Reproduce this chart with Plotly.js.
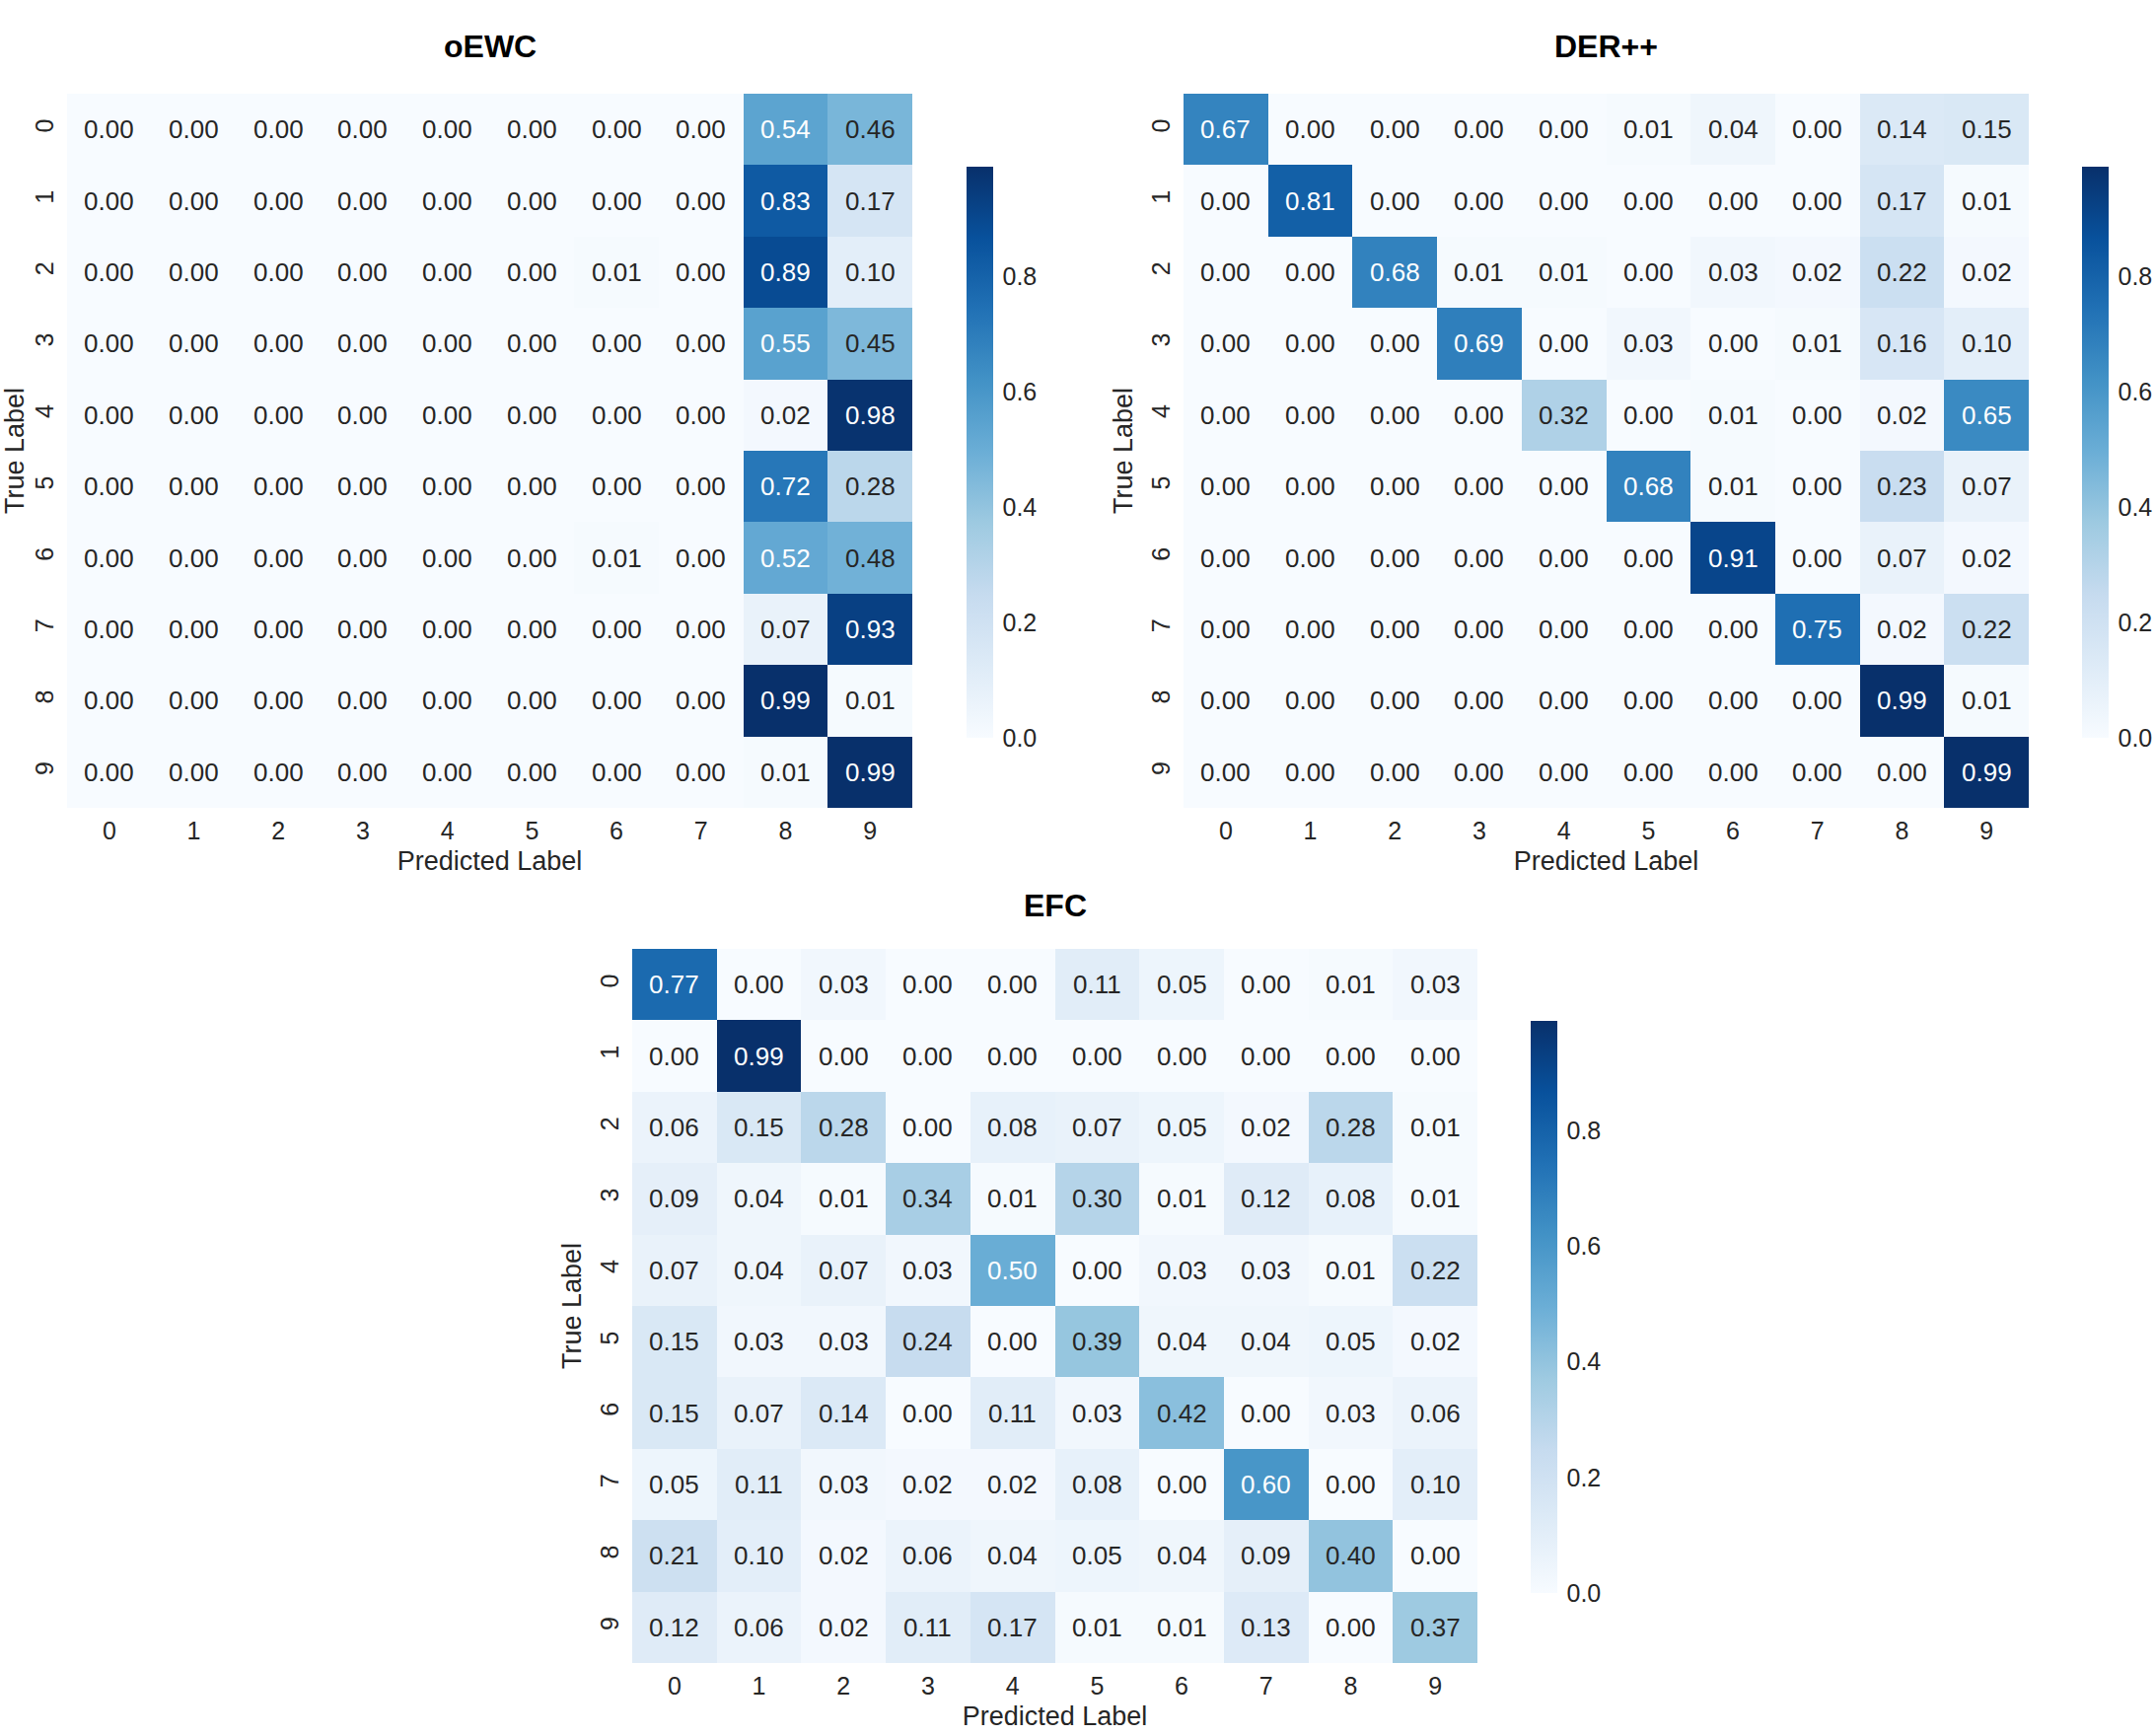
<!DOCTYPE html>
<html>
<head>
<meta charset="utf-8">
<script src="https://cdn.plot.ly/plotly-3.0.1.min.js"></script>
<style>
  html, body { margin: 0; padding: 0; background: #fff; }
  #chart { width: 2185px; height: 1760px; }
</style>
</head>
<body>
<div id="chart"></div>
<script>
// class labels on both axes
const labels = [0, 1, 2, 3, 4, 5, 6, 7, 8, 9];

// confusion matrices (rows = true label, cols = predicted label)
const oewc = [
  [0.00, 0.00, 0.00, 0.00, 0.00, 0.00, 0.00, 0.00, 0.54, 0.46],
  [0.00, 0.00, 0.00, 0.00, 0.00, 0.00, 0.00, 0.00, 0.83, 0.17],
  [0.00, 0.00, 0.00, 0.00, 0.00, 0.00, 0.01, 0.00, 0.89, 0.10],
  [0.00, 0.00, 0.00, 0.00, 0.00, 0.00, 0.00, 0.00, 0.55, 0.45],
  [0.00, 0.00, 0.00, 0.00, 0.00, 0.00, 0.00, 0.00, 0.02, 0.98],
  [0.00, 0.00, 0.00, 0.00, 0.00, 0.00, 0.00, 0.00, 0.72, 0.28],
  [0.00, 0.00, 0.00, 0.00, 0.00, 0.00, 0.01, 0.00, 0.52, 0.48],
  [0.00, 0.00, 0.00, 0.00, 0.00, 0.00, 0.00, 0.00, 0.07, 0.93],
  [0.00, 0.00, 0.00, 0.00, 0.00, 0.00, 0.00, 0.00, 0.99, 0.01],
  [0.00, 0.00, 0.00, 0.00, 0.00, 0.00, 0.00, 0.00, 0.01, 0.99]
];

const derpp = [
  [0.67, 0.00, 0.00, 0.00, 0.00, 0.01, 0.04, 0.00, 0.14, 0.15],
  [0.00, 0.81, 0.00, 0.00, 0.00, 0.00, 0.00, 0.00, 0.17, 0.01],
  [0.00, 0.00, 0.68, 0.01, 0.01, 0.00, 0.03, 0.02, 0.22, 0.02],
  [0.00, 0.00, 0.00, 0.69, 0.00, 0.03, 0.00, 0.01, 0.16, 0.10],
  [0.00, 0.00, 0.00, 0.00, 0.32, 0.00, 0.01, 0.00, 0.02, 0.65],
  [0.00, 0.00, 0.00, 0.00, 0.00, 0.68, 0.01, 0.00, 0.23, 0.07],
  [0.00, 0.00, 0.00, 0.00, 0.00, 0.00, 0.91, 0.00, 0.07, 0.02],
  [0.00, 0.00, 0.00, 0.00, 0.00, 0.00, 0.00, 0.75, 0.02, 0.22],
  [0.00, 0.00, 0.00, 0.00, 0.00, 0.00, 0.00, 0.00, 0.99, 0.01],
  [0.00, 0.00, 0.00, 0.00, 0.00, 0.00, 0.00, 0.00, 0.00, 0.99]
];

const efc = [
  [0.77, 0.00, 0.03, 0.00, 0.00, 0.11, 0.05, 0.00, 0.01, 0.03],
  [0.00, 0.99, 0.00, 0.00, 0.00, 0.00, 0.00, 0.00, 0.00, 0.00],
  [0.06, 0.15, 0.28, 0.00, 0.08, 0.07, 0.05, 0.02, 0.28, 0.01],
  [0.09, 0.04, 0.01, 0.34, 0.01, 0.30, 0.01, 0.12, 0.08, 0.01],
  [0.07, 0.04, 0.07, 0.03, 0.50, 0.00, 0.03, 0.03, 0.01, 0.22],
  [0.15, 0.03, 0.03, 0.24, 0.00, 0.39, 0.04, 0.04, 0.05, 0.02],
  [0.15, 0.07, 0.14, 0.00, 0.11, 0.03, 0.42, 0.00, 0.03, 0.06],
  [0.05, 0.11, 0.03, 0.02, 0.02, 0.08, 0.00, 0.60, 0.00, 0.10],
  [0.21, 0.10, 0.02, 0.06, 0.04, 0.05, 0.04, 0.09, 0.40, 0.00],
  [0.12, 0.06, 0.02, 0.11, 0.17, 0.01, 0.01, 0.13, 0.00, 0.37]
];

const titles = ['oEWC', 'DER++', 'EFC'];
const cbTicks = [0, 0.2, 0.4, 0.6, 0.8];

// matplotlib "Blues"
const blues = [
  [0.000, '#f7fbff'], [0.125, '#deebf7'], [0.250, '#c6dbef'],
  [0.375, '#9ecae1'], [0.500, '#6baed6'], [0.625, '#4292c6'],
  [0.750, '#2171b5'], [0.875, '#08519c'], [1.000, '#08306b']
];

const W = 2185, H = 1760;
const FONT = 'Liberation Sans, Arial, Helvetica, sans-serif';
const INK = '#262626';

// pixel boxes for each panel: heatmap box + colorbar box
const panels = [
  { hx: [68, 925],    hy: [95, 819],   cbx: 980,  cby: [169, 748], title: 47 },
  { hx: [1200, 2057], hy: [95, 819],   cbx: 2111, cby: [169, 748], title: 47 },
  { hx: [641, 1498],  hy: [962, 1686], cbx: 1552, cby: [1035, 1615], title: 918 }
];

const mats = [oewc, derpp, efc];
const traces = [];
const annotations = [];
const layout = {
  width: W, height: H,
  margin: { l: 0, r: 0, t: 0, b: 0 },
  paper_bgcolor: '#fff', plot_bgcolor: '#fff',
  showlegend: false,
  font: { family: FONT, color: INK }
};

mats.forEach((z, k) => {
  const p = panels[k];
  const sfx = k === 0 ? '' : String(k + 1);
  const zmax = Math.max(...z.flat());
  traces.push({
    type: 'heatmap',
    z: z, x: labels, y: labels,
    xaxis: 'x' + sfx, yaxis: 'y' + sfx,
    zmin: 0, zmax: zmax,
    colorscale: blues,
    hoverinfo: 'skip',
    colorbar: {
      x: p.cbx / W, xanchor: 'left', xpad: 0,
      y: 1 - (p.cby[0] + p.cby[1]) / 2 / H, yanchor: 'middle', ypad: 0,
      len: (p.cby[1] - p.cby[0]) / H, lenmode: 'fraction',
      thickness: 27, thicknessmode: 'pixels',
      outlinewidth: 0,
      ticks: 'outside', ticklen: 5, tickcolor: 'rgba(0,0,0,0)',
      tickvals: cbTicks, tickformat: '.1f',
      tickfont: { size: 25, family: FONT, color: INK }
    }
  });

  layout['xaxis' + sfx] = {
    domain: [p.hx[0] / W, p.hx[1] / W],
    anchor: 'y' + sfx,
    range: [-0.5, 9.5],
    tickvals: labels, ticks: '', showgrid: false, zeroline: false, showline: false,
    tickfont: { size: 25, family: FONT, color: INK },
    ticklabelstandoff: 6,
    title: { text: 'Predicted Label', font: { size: 27, family: FONT, color: INK }, standoff: 8 }
  };
  layout['yaxis' + sfx] = {
    domain: [1 - p.hy[1] / H, 1 - p.hy[0] / H],
    anchor: 'x' + sfx,
    range: [9.5, -0.5],
    tickvals: labels, ticks: '', showgrid: false, zeroline: false, showline: false,
    tickangle: -90,
    tickfont: { size: 25, family: FONT, color: INK },
    ticklabelstandoff: 8,
    title: { text: 'True Label', font: { size: 27, family: FONT, color: INK }, standoff: 6 }
  };

  // panel title
  annotations.push({
    xref: 'paper', yref: 'paper',
    x: (p.hx[0] + p.hx[1]) / 2 / W, y: 1 - p.title / H,
    xanchor: 'center', yanchor: 'middle', showarrow: false,
    text: '<b>' + titles[k] + '</b>',
    font: { size: 32, family: FONT, color: '#000' }
  });

  // cell annotations
  z.forEach((row, i) => {
    row.forEach((v, j) => {
      annotations.push({
        xref: 'x' + sfx, yref: 'y' + sfx,
        x: labels[j], y: labels[i],
        text: v.toFixed(2), showarrow: false,
        font: { size: 26, family: FONT, color: v / zmax > 0.5 ? '#ffffff' : INK }
      });
    });
  });
});

layout.annotations = annotations;

Plotly.newPlot('chart', traces, layout, { staticPlot: true, displayModeBar: false });
</script>
</body>
</html>
